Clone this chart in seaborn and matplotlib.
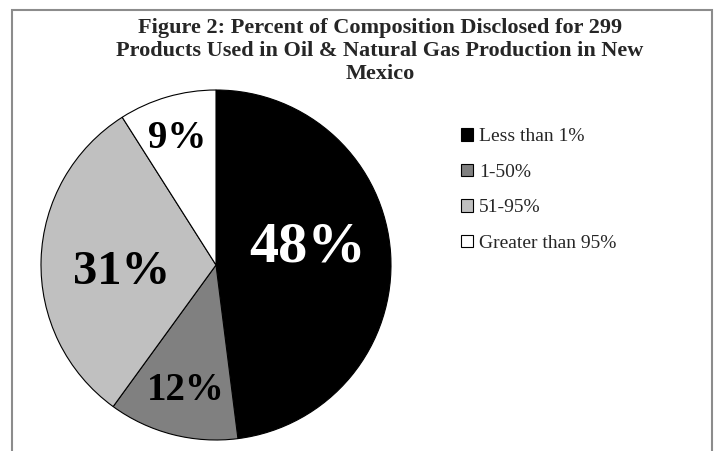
import numpy as np
import matplotlib
matplotlib.use("Agg")
from matplotlib import pyplot as plt
from matplotlib.patches import Rectangle
import seaborn as sns

sns.set_theme(style="white")
plt.rcParams['font.family'] = ['Liberation Serif', 'DejaVu Serif']

# data
categories = ['Less than 1%', '1-50%', '51-95%', 'Greater than 95%']
shares = [48, 12, 31, 9]
title = ('Figure 2: Percent of Composition Disclosed for 299\n'
         'Products Used in Oil & Natural Gas Production in New\nMexico')

# styling for each slice
colors = sns.color_palette(['#000000', '#808080', '#c0c0c0', '#ffffff'])
label_colors = ['white', 'black', 'black', 'black']
label_sizes = [42, 28, 35, 28]
label_dist = [0.53, 0.735, 0.54, 0.757]
label_turn = [7, 1, 6, 1]

W, H = 718, 451
fig = plt.figure(figsize=(W / 100, H / 100), dpi=100)
fig.patch.set_facecolor('white')

# outer chart frame (bottom edge is cut off in the original)
fig.add_artist(Rectangle((12 / W, -0.05), 700 / W, 1.05 - 10 / H,
                         transform=fig.transFigure, fill=False,
                         edgecolor='#8c8c8c', linewidth=1.5))

cx, cy, r = 216, 265, 175
ax = fig.add_axes([(cx - r) / W, (H - cy - r) / H, 2 * r / W, 2 * r / H])
wedges, _ = ax.pie(shares, colors=colors, startangle=90, counterclock=False,
                   wedgeprops=dict(edgecolor='black', linewidth=0.8, clip_on=False))
ax.set_xlim(-1, 1)
ax.set_ylim(-1, 1)
ax.set_aspect('equal')

for w, v, c, s, d, t in zip(wedges, shares, label_colors, label_sizes, label_dist, label_turn):
    ang = np.deg2rad((w.theta1 + w.theta2) / 2 + t)
    ax.text(d * np.cos(ang), d * np.sin(ang), f'{v}%', ha='center', va='center',
            color=c, fontsize=s, fontweight='bold')

fig.text(380 / W, 1 - 18 / H, title, ha='center', va='top', fontsize=16,
         fontweight='bold', linespacing=1.2)

leg = fig.legend(wedges, categories, loc='upper left',
                 bbox_to_anchor=(461 / W, 1 - 128 / H), frameon=False,
                 fontsize=14, handlelength=0.62, handleheight=0.62,
                 handletextpad=0.3, labelspacing=0.95, borderpad=0, borderaxespad=0)
for h in leg.legend_handles:
    h.set_edgecolor('black')
    h.set_linewidth(0.8)

fig.savefig('out.png', dpi=100)
